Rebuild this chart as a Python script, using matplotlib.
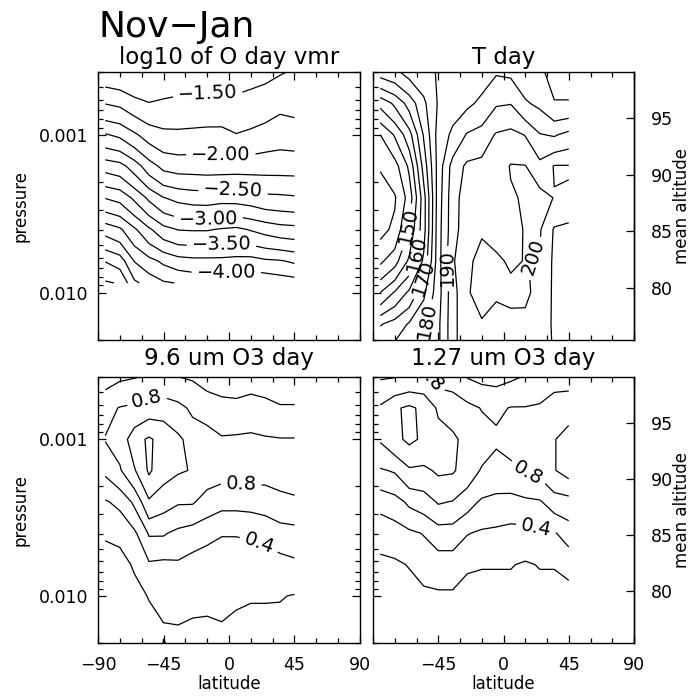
import numpy as np
import matplotlib.pyplot as plt
from matplotlib.ticker import (FixedLocator, MultipleLocator, LogLocator, NullFormatter,
                               NullLocator, FormatStrFormatter)

plt.rcParams['font.family'] = 'DejaVu Sans'
plt.rcParams['contour.negative_linestyle'] = 'solid'

# latitude grid of the zonal means (deg) and pressure levels (hPa)
lat = [-85, -75, -65, -55, -45, -35, -25, -15, -5, 5, 15, 25, 35, 45]
pressure = [0.000398, 0.000631, 0.001, 0.00158, 0.00251, 0.00398, 0.00631, 0.0100, 0.0158, 0.0251]
pressure_o = [0.000398, 0.000631, 0.001, 0.00158, 0.00251, 0.00398, 0.00631, 0.0087]

# log10 of O day vmr (rows = pressure_o, columns = lat)
o_vmr = [
    [-1.32, -1.28, -1.20, -1.20, -1.30, -1.34, -1.35, -1.36, -1.38, -1.40, -1.42, -1.44, -1.48, -1.52],
    [-1.74, -1.70, -1.59, -1.51, -1.54, -1.56, -1.57, -1.58, -1.56, -1.55, -1.58, -1.62, -1.69, -1.67],
    [-2.27, -2.20, -2.04, -1.89, -1.81, -1.80, -1.81, -1.82, -1.83, -1.76, -1.80, -1.85, -1.89, -1.87],
    [-2.90, -2.84, -2.63, -2.36, -2.18, -2.14, -2.14, -2.13, -2.13, -2.14, -2.14, -2.15, -2.15, -2.15],
    [-3.49, -3.42, -3.20, -2.95, -2.76, -2.68, -2.64, -2.63, -2.66, -2.65, -2.62, -2.56, -2.55, -2.53],
    [-4.15, -4.04, -3.79, -3.54, -3.33, -3.24, -3.23, -3.23, -3.27, -3.30, -3.23, -3.16, -3.10, -3.08],
    [-4.74, -4.63, -4.24, -4.08, -3.95, -3.85, -3.82, -3.82, -3.82, -3.84, -3.85, -3.79, -3.77, -3.71],
    [-5.03, -4.98, -4.55, -4.40, -4.28, -4.24, -4.20, -4.20, -4.20, -4.20, -4.20, -4.20, -4.15, -4.12],
]

# T day (K)
t_day = [
    [172.5, 174, 177, 178, 180.5, 182, 183, 183, 184.5, 184, 182.5, 181, 178, 178],
    [156.5, 161, 167, 174, 180.5, 183, 184, 186, 189.5, 189.8, 185.5, 184, 180.3, 180.3],
    [145, 150.5, 158, 170.5, 182, 186, 190.5, 192, 195.5, 196.5, 194.8, 190.3, 189.5, 191.5],
    [140.5, 143, 151, 167, 182, 192, 196, 196.5, 197.5, 200.3, 200.2, 196.5, 200.3, 200.3],
    [137, 139.5, 147, 163, 182.5, 193, 197.5, 197.5, 198.5, 199.5, 200.5, 202, 199.8, 199.5],
    [138.5, 141, 151, 163, 183, 193, 198, 199.5, 199, 199.5, 200.1, 200.5, 194.5, 193.5],
    [144, 148, 156, 166, 183, 194.4, 199, 201.5, 200.5, 199.6, 200.1, 199.7, 194, 193],
    [155, 160.5, 166, 174, 183, 193, 199.5, 202, 201, 200.8, 200.6, 199, 194, 193.5],
    [169.5, 172, 175.5, 179, 184, 193, 199.5, 199.5, 197, 199, 199.2, 198.5, 194, 194],
    [178, 178, 179, 181, 184, 193, 199.5, 198, 196, 197, 197, 198, 194.5, 194],
]

# 9.6 um O3 day (ppmv)
o3_96 = [
    [0.52, 0.57, 0.59, 0.61, 0.60, 0.60, 0.58, 0.53, 0.50, 0.49, 0.52, 0.50, 0.47, 0.47],
    [0.74, 0.81, 0.84, 0.90, 0.93, 0.86, 0.76, 0.70, 0.67, 0.66, 0.68, 0.66, 0.62, 0.62],
    [0.81, 0.87, 1.12, 1.23, 1.12, 1.04, 0.92, 0.90, 0.82, 0.83, 0.84, 0.82, 0.81, 0.81],
    [0.64, 0.78, 0.98, 1.23, 1.08, 1.02, 0.99, 0.90, 0.88, 0.88, 0.88, 0.87, 0.86, 0.86],
    [0.38, 0.45, 0.64, 0.97, 0.88, 0.82, 0.82, 0.72, 0.66, 0.66, 0.67, 0.70, 0.76, 0.78],
    [0.22, 0.24, 0.36, 0.62, 0.62, 0.55, 0.50, 0.45, 0.41, 0.41, 0.42, 0.44, 0.50, 0.52],
    [0.12, 0.14, 0.22, 0.37, 0.35, 0.37, 0.32, 0.30, 0.30, 0.30, 0.31, 0.31, 0.33, 0.36],
    [0.08, 0.10, 0.14, 0.21, 0.25, 0.26, 0.24, 0.23, 0.24, 0.22, 0.21, 0.21, 0.21, 0.19],
    [0.05, 0.06, 0.10, 0.13, 0.19, 0.195, 0.18, 0.18, 0.19, 0.17, 0.16, 0.16, 0.15, 0.14],
    [0.03, 0.03, 0.06, 0.08, 0.22, 0.19, 0.15, 0.14, 0.16, 0.15, 0.14, 0.14, 0.12, 0.12],
]

# 1.27 um O3 day (ppmv)
o3_127 = [
    [0.78, 0.79, 0.82, 0.85, 0.72, 0.70, 0.59, 0.55, 0.54, 0.57, 0.61, 0.65, 0.72, 0.72],
    [1.03, 1.17, 1.24, 1.15, 0.97, 0.93, 0.86, 0.79, 0.76, 0.81, 0.81, 0.83, 0.90, 0.92],
    [1.02, 1.15, 1.24, 1.17, 1.08, 1.03, 0.95, 0.90, 0.84, 0.88, 0.90, 0.92, 0.99, 1.08],
    [0.78, 0.82, 0.97, 0.96, 1.03, 1.02, 0.92, 0.78, 0.69, 0.75, 0.81, 0.85, 0.99, 1.08],
    [0.46, 0.52, 0.64, 0.70, 0.82, 0.79, 0.68, 0.57, 0.56, 0.53, 0.56, 0.58, 0.70, 0.72],
    [0.28, 0.30, 0.36, 0.41, 0.50, 0.50, 0.41, 0.37, 0.35, 0.33, 0.33, 0.36, 0.38, 0.50],
    [0.15, 0.17, 0.21, 0.27, 0.30, 0.30, 0.22, 0.21, 0.21, 0.21, 0.18, 0.21, 0.21, 0.24],
    [0.10, 0.11, 0.12, 0.16, 0.17, 0.17, 0.14, 0.13, 0.13, 0.13, 0.12, 0.13, 0.13, 0.15],
    [0.07, 0.08, 0.09, 0.10, 0.11, 0.11, 0.10, 0.09, 0.09, 0.09, 0.09, 0.09, 0.09, 0.10],
    [0.05, 0.05, 0.06, 0.07, 0.08, 0.08, 0.07, 0.07, 0.07, 0.07, 0.07, 0.07, 0.07, 0.07],
]

# contour levels
levels_o = [-5.0, -4.75, -4.5, -4.25, -4.0, -3.75, -3.5, -3.25, -3.0, -2.75, -2.5, -2.25, -2.0, -1.75, -1.5]
levels_t = [130, 135, 140, 145, 150, 155, 160, 165, 170, 175, 180, 185, 190, 195, 200, 205, 210, 215, 220]
levels_o3 = [0.2, 0.4, 0.6, 0.8, 1.0, 1.2]

lat_ticks = [-90, -45, 0, 45, 90]
alt_ticks = [80, 85, 90, 95]

# pressure <-> mean altitude (km)
def p_to_alt(p):
    return 93.53 - 6.045 * np.log(np.asarray(p, dtype=float) / 1e-3)

def alt_to_p(z):
    return 1e-3 * np.exp((93.53 - np.asarray(z, dtype=float)) / 6.045)

W, H = 693, 697
fig = plt.figure(figsize=(W / 100, H / 100), dpi=100)

def rect(l, t, r, b):
    return [l / W, 1 - b / H, (r - l) / W, (b - t) / H]

def style(ax, left, bottom, title, tpad):
    ax.set_xlim(-90, 90)
    ax.set_yscale('log')
    ax.set_ylim(2e-2, 4e-4)
    ax.xaxis.set_major_locator(FixedLocator(lat_ticks))
    ax.xaxis.set_minor_locator(MultipleLocator(15))
    ax.yaxis.set_major_locator(FixedLocator([0.001, 0.01]))
    ax.yaxis.set_minor_locator(LogLocator(base=10, subs=[2, 3, 4, 5, 6, 7, 8, 9]))
    ax.yaxis.set_minor_formatter(NullFormatter())
    ax.tick_params(which='both', direction='in', top=True, right=left, width=0.9, labelsize=12.5)
    ax.tick_params(which='major', length=6)
    ax.tick_params(which='minor', length=3.5)
    ax.tick_params(axis='x', pad=9)
    ax.tick_params(axis='y', pad=7)
    for s in ax.spines.values():
        s.set_linewidth(1.0)
    if left:
        ax.set_yticklabels(['0.001', '0.010'])
        ax.set_ylabel('pressure', fontsize=12, labelpad=7)
    else:
        ax.set_yticklabels([])
        sec = ax.secondary_yaxis('right', functions=(p_to_alt, alt_to_p))
        sec.yaxis.set_major_locator(FixedLocator(alt_ticks))
        sec.yaxis.set_major_formatter(FormatStrFormatter('%d'))
        sec.yaxis.set_minor_locator(NullLocator())
        sec.tick_params(axis='y', direction='in', length=6, width=0.9, labelsize=12.5, pad=12)
        sec.spines['right'].set_linewidth(1.0)
        sec.set_ylabel('mean altitude', fontsize=12, labelpad=0)
    if bottom:
        if left:
            ax.set_xticklabels(['\u221290', '\u221245', '0', '45', '90'])
        else:
            ax.set_xticklabels(['', '\u221245', '0', '45', '90'])
        ax.set_xlabel('latitude', fontsize=12, labelpad=1)
    else:
        ax.set_xticklabels([])
    ax.set_title(title, fontsize=16.5, pad=tpad)

def draw(ax, p, z, levels, lab_levels, lab_pos, fmt):
    # plain levels and labelled levels go in two contour sets
    plain = [v for v in levels if v not in lab_levels]
    ax.contour(lat, p, z, levels=plain, colors='k', linewidths=0.9)
    cs = ax.contour(lat, p, z, levels=lab_levels, colors='k', linewidths=0.9)
    ax.set_xlim(-90, 90)
    ax.set_ylim(2e-2, 4e-4)
    ax.clabel(cs, manual=lab_pos, fmt=fmt, fontsize=14, inline_spacing=5)
    # steep labels read upwards, as in the original
    for t in cs.labelTexts:
        r = t.get_rotation() % 360
        if 90 < r < 300:
            t.set_rotation(r - 180)

fmt_o = lambda v: ('%.2f' % v).replace('-', '\u2212')
fmt_t = lambda v: '%d' % v
fmt_o3 = lambda v: '%.1f' % v

# log10 O
ax1 = fig.add_axes(rect(98, 72, 360, 340))
style(ax1, True, False, 'log10 of O day vmr', 5.5)
draw(ax1, pressure_o, o_vmr, levels_o, [-4.0, -3.5, -3.0, -2.5, -2.0, -1.5],
     [(-14.5, 5.3e-4), (-5.5, 1.32e-3), (2.8, 2.26e-3), (-14.5, 3.26e-3), (-5.5, 4.5e-3), (-2, 6.75e-3)], fmt_o)

# T
ax2 = fig.add_axes(rect(373, 72, 634, 340))
style(ax2, False, False, 'T day', 5.5)
draw(ax2, pressure, t_day, levels_t, [150, 160, 170, 180, 190, 200],
     [(-67, 3.77e-3), (-61, 5.66e-3), (-56, 8.0e-3), (-55.5, 1.5e-2), (-38.3, 6.95e-3), (23, 6.26e-3)], fmt_t)

# 9.6 um O3
ax3 = fig.add_axes(rect(98, 377, 360, 643))
style(ax3, True, True, '9.6 um O3 day', 8.5)
draw(ax3, pressure, o3_96, levels_o3, [0.4, 0.8],
     [(-57.5, 5.2e-4), (8.3, 2.0e-3), (22.2, 4.2e-3)], fmt_o3)

# 1.27 um O3
ax4 = fig.add_axes(rect(373, 377, 634, 643))
style(ax4, False, True, '1.27 um O3 day', 8.5)
draw(ax4, pressure, o3_127, levels_o3, [0.4, 0.8],
     [(-54, 4.25e-4), (18.3, 1.52e-3), (23.8, 3.27e-3)], fmt_o3)

fig.text(98 / W, 1 - 37 / H, 'Nov\u2212Jan', fontsize=26, ha='left', va='baseline')

fig.savefig('out.png', dpi=100)
